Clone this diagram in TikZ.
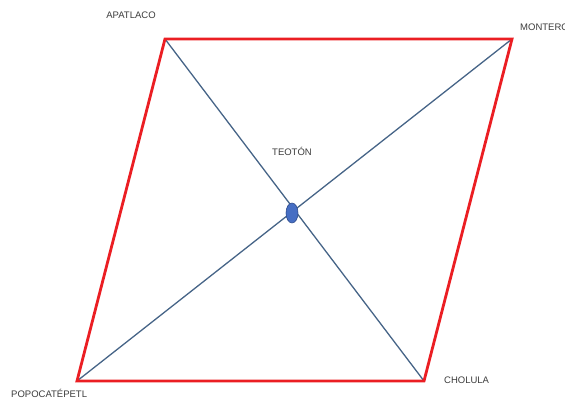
\documentclass[tikz,border=0pt]{standalone}
\usepackage{fontspec}
\setmainfont{Liberation Sans}
\usetikzlibrary{shapes.geometric}
\definecolor{frame}{RGB}{235,30,35}
\definecolor{diag}{RGB}{70,100,135}
\definecolor{dotfill}{RGB}{70,110,195}
\definecolor{dotline}{RGB}{45,75,140}
\definecolor{lbl}{RGB}{60,60,60}
\begin{document}
\begin{tikzpicture}[x=1pt,y=-1pt,
  lab/.style={font=\fontsize{9.5}{11}\selectfont, text=lbl, inner sep=0pt},
  frameline/.style={draw=frame, line width=2.8pt, line join=miter},
  diagline/.style={draw=diag, line width=1.3pt}]
\useasboundingbox (0,0) rectangle (565,398);
\coordinate (tl) at (165,39);
\coordinate (tr) at (512,39);
\coordinate (br) at (424,381);
\coordinate (bl) at (77,381);
\draw[diagline] (tl) -- (br);
\draw[diagline] (bl) -- (tr);
\draw[frameline] (tl) -- (tr) -- (br) -- (bl) -- cycle;
\node[draw=dotline, fill=dotfill, ellipse, minimum width=12pt, minimum height=20pt, inner sep=0pt, line width=0.6pt] (dot) at (292,213) {};
\node[lab] (apa) at (131,15) {APATLACO};
\node[lab, anchor=west] (mon) at (520,27) {MONTERO};
\node[lab] (teo) at (292,151) {TEOTÓN};
\node[lab, anchor=west] (pop) at (11,393) {POPOCATÉPETL};
\node[lab, anchor=west] (cho) at (444,380) {CHOLULA};
\end{tikzpicture}
\end{document}
